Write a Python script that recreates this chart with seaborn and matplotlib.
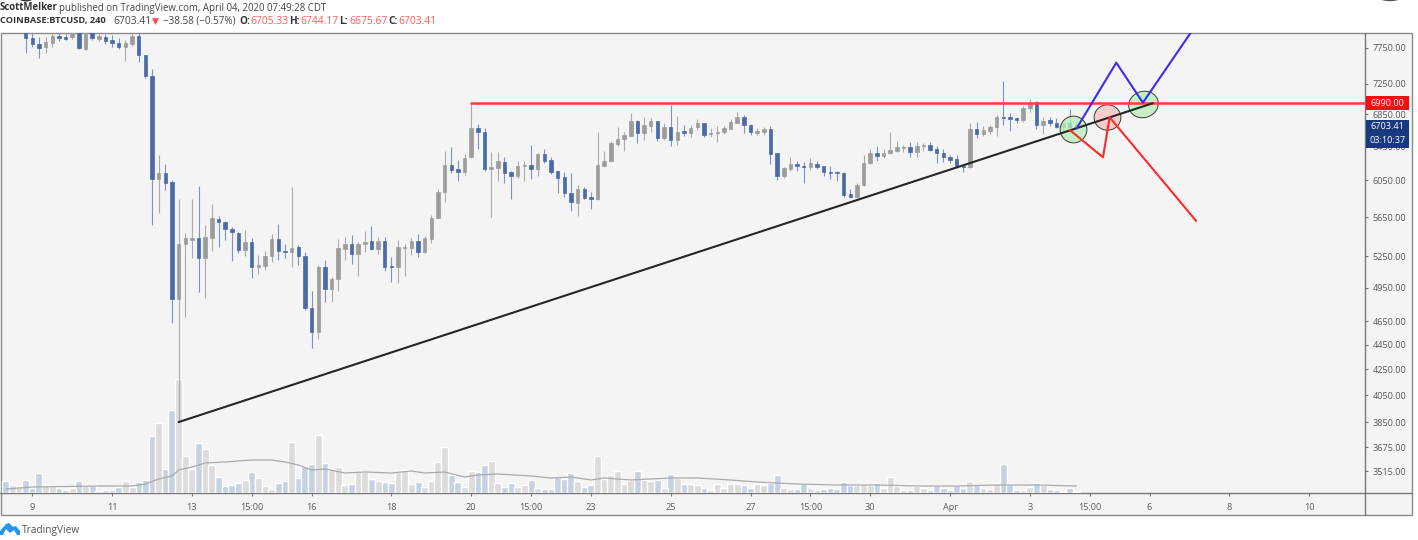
import numpy as np
import pandas as pd
import matplotlib
matplotlib.use("Agg")
import matplotlib.pyplot as plt
import seaborn as sns
from matplotlib.markers import MarkerStyle
from matplotlib.patches import Rectangle, Polygon, Ellipse
from matplotlib.transforms import Affine2D, IdentityTransform
from matplotlib.colors import to_rgba

# ====================================
# DATA (4h candles)
# ====================================
opens = [8120, 8060, 8090, 8000, 7897, 7808, 7764, 7829, 7925, 7910,
         7910, 8000, 7735, 7985, 7880, 7918, 7865, 7822, 7764, 7808,
         7925, 7649, 7360, 6067, 6135, 6033, 4848, 5373, 5418, 5436,
         5230, 5436, 5630, 5601, 5525, 5487, 5313, 5393, 5150, 5156,
         5254, 5423, 5303, 5290, 5343, 5254, 4767, 4560, 5150, 4940,
         5032, 5323, 5373, 5273, 5373, 5400, 5323, 5406, 5160, 5150,
         5336, 5336, 5406, 5290, 5426, 5643, 5921, 6227, 6177, 6143,
         6318, 6678, 6628, 6181, 6192, 6259, 6146, 6100, 6216, 6224,
         6184, 6353, 6282, 6158, 6085, 5913, 5804, 5951, 5862, 5847,
         6220, 6271, 6476, 6534, 6578, 6757, 6608, 6702, 6757, 6550,
         6683, 6525, 6633, 6616, 6683, 6732, 6600, 6608, 6628, 6665,
         6740, 6808, 6715, 6612, 6628, 6661, 6365, 6100, 6181, 6239,
         6220, 6204, 6239, 6212, 6146, 6143, 6131, 5895, 5869, 5995,
         6247, 6368, 6337, 6365, 6388, 6432, 6437, 6384, 6452, 6465,
         6416, 6365, 6325, 6294, 6220, 6208, 6658, 6604, 6637, 6683,
         6812, 6808, 6795, 6774, 6925, 7000, 6715, 6774, 6740, 6690,
         6740, 6705.33]
closes = [8060, 8090, 8110, 7897, 7808, 7750, 7836, 7925, 7895, 7880,
          7985, 7750, 8000, 7895, 7925, 7851, 7822, 7771, 7822, 7925,
          7649, 7360, 6067, 6135, 6022, 4848, 5373, 5433, 5433, 5237,
          5446, 5640, 5598, 5522, 5491, 5313, 5393, 5150, 5166, 5254,
          5423, 5303, 5293, 5333, 5254, 4767, 4560, 5150, 4940, 5032,
          5333, 5373, 5273, 5373, 5390, 5320, 5406, 5150, 5150, 5340,
          5346, 5406, 5290, 5430, 5643, 5924, 6227, 6169, 6150, 6313,
          6678, 6628, 6177, 6204, 6271, 6138, 6104, 6216, 6227, 6184,
          6353, 6278, 6146, 6078, 5913, 5808, 5951, 5858, 5847, 6231,
          6274, 6485, 6541, 6583, 6757, 6608, 6707, 6757, 6546, 6683,
          6525, 6628, 6616, 6678, 6740, 6591, 6616, 6628, 6674, 6752,
          6808, 6715, 6625, 6633, 6661, 6357, 6104, 6192, 6239, 6220,
          6208, 6247, 6208, 6143, 6135, 6135, 5890, 5869, 6002, 6247,
          6372, 6337, 6368, 6404, 6437, 6440, 6384, 6452, 6465, 6404,
          6365, 6325, 6286, 6216, 6208, 6658, 6604, 6649, 6683, 6808,
          6800, 6790, 6774, 6925, 6993, 6715, 6765, 6732, 6690, 6740,
          6690, 6703.41]
highs = [8150, 8130, 8160, 8050, 7970, 7910, 7910, 7970, 7970, 7955,
         8014, 8040, 8040, 8030, 7970, 7955, 7940, 7895, 7865, 7970,
         7970, 7649, 7453, 6345, 6240, 6055, 5844, 5488, 5844, 5988,
         5567, 5790, 5662, 5608, 5546, 5494, 5515, 5433, 5263, 5303,
         5473, 5577, 5373, 5976, 5363, 5293, 4924, 5166, 5214, 5055,
         5423, 5443, 5463, 5396, 5505, 5560, 5443, 5446, 5247, 5413,
         5373, 5430, 5470, 5453, 5672, 5951, 6392, 6437, 6286, 6357,
         6980, 6725, 6678, 6384, 6384, 6318, 6161, 6274, 6274, 6465,
         6368, 6412, 6318, 6158, 6150, 6138, 5999, 5980, 5924, 6628,
         6396, 6517, 6690, 6628, 6860, 6774, 6808, 6795, 6765, 6732,
         6967, 6825, 6712, 6712, 6783, 6740, 6678, 6699, 6699, 6783,
         6872, 6838, 6725, 6670, 6690, 6699, 6368, 6208, 6325, 6274,
         6266, 6306, 6274, 6216, 6216, 6154, 6146, 5951, 6018, 6345,
         6412, 6452, 6412, 6620, 6513, 6465, 6505, 6505, 6493, 6505,
         6452, 6412, 6345, 6345, 6227, 6740, 6752, 6699, 6712, 6838,
         7286, 6868, 6816, 6954, 7040, 7020, 6812, 6816, 6800, 6752,
         6910, 6744.17]
lows = [8030, 8030, 8040, 7679, 7764, 7607, 7679, 7764, 7851, 7865,
        7880, 7735, 7721, 7865, 7851, 7808, 7764, 7735, 7564, 7778,
        7550, 7330, 5567, 5697, 5943, 4635, 3852, 4690, 5234, 4914,
        4857, 5303, 5346, 5413, 5207, 5283, 5254, 5042, 5080, 5118,
        5198, 5214, 5234, 5150, 5166, 4749, 4424, 4498, 4824, 4824,
        4924, 5214, 5176, 5061, 5296, 5313, 5273, 5111, 5007, 4992,
        5061, 5263, 5247, 5283, 5386, 5637, 5808, 6138, 6044, 6112,
        6309, 6416, 6161, 5647, 6044, 6025, 5841, 6081, 6044, 6066,
        6100, 6254, 6123, 5907, 5862, 5718, 5661, 5841, 5736, 5833,
        6216, 6263, 6452, 6396, 6574, 6485, 6525, 6620, 6517, 6525,
        6452, 6464, 6578, 6558, 6649, 6566, 6566, 6505, 6596, 6661,
        6736, 6616, 6587, 6583, 6583, 6240, 6055, 6081, 6158, 6158,
        6018, 6169, 6177, 6104, 6070, 6044, 5862, 5855, 5851, 5987,
        6239, 6274, 6306, 6362, 6380, 6376, 6325, 6318, 6396, 6396,
        6247, 6266, 6254, 6189, 6150, 6189, 6554, 6574, 6600, 6578,
        6712, 6637, 6732, 6752, 6872, 6658, 6596, 6699, 6674, 6649,
        6612, 6675.67]
volumes = [1200, 800, 700, 1300, 500, 2000, 800, 700, 500, 300,
           500, 1200, 800, 800, 250, 300, 300, 600, 1200, 600,
           1100, 1300, 5700, 7000, 2400, 8300, 11400, 3700, 2400, 5000,
           4400, 2800, 1600, 700, 800, 1000, 1300, 2100, 1500, 700,
           400, 1000, 1200, 5100, 1500, 2700, 2900, 5800, 3000, 2300,
           2600, 800, 900, 2100, 2100, 1400, 1200, 1100, 1000, 2100,
           2300, 900, 1100, 600, 1200, 3100, 4600, 1800, 1100, 600,
           2200, 2100, 2800, 3200, 1000, 600, 1000, 600, 800, 1300,
           500, 400, 400, 1600, 1400, 2000, 1200, 600, 800, 3700,
           1400, 1800, 2200, 900, 1300, 2200, 1300, 1200, 1300, 500,
           1900, 1500, 900, 900, 800, 500, 300, 900, 500, 900,
           900, 800, 500, 900, 800, 1000, 1800, 500, 400, 400,
           1000, 500, 300, 400, 500, 400, 1100, 800, 800, 900,
           800, 1000, 500, 1600, 700, 300, 300, 700, 500, 300,
           800, 500, 300, 800, 500, 1200, 800, 500, 400, 1000,
           2900, 900, 300, 300, 600, 1000, 800, 400, 300, 100,
           500, 100]

# volume moving average, read at a handful of candles
ma_idx = [0, 4, 9, 14, 19, 21, 23, 25, 26, 28, 30, 33, 37, 40, 42, 44, 46, 48, 51, 54,
          58, 61, 63, 66, 69, 71, 74, 79, 82, 85, 88, 90, 94, 97, 100, 104, 109, 113,
          119, 125, 131, 137, 143, 149, 155, 161]
ma_values = [400, 600, 650, 700, 700, 900, 1400, 1700, 2300, 2600, 3000, 3100, 3300, 3300, 3100,
             2800, 2300, 2400, 2000, 2100, 2000, 2200, 2000, 2100, 1600, 1800, 1900, 1700, 1500,
             1600, 1300, 1500, 1300, 1400, 1500, 1500, 1300, 1100, 900, 800, 800, 700, 700,
             800, 800, 700]

# drawn trend lines and scenario paths
level_price = 6990
level_idx = [70, 204.4]
trend_idx = [26, 172.5]
trend_price = [3852, 6990]
up_idx = [161, 167, 171, 178.2]
up_price = [6665, 7540, 6997, 7975]
down_idx = [160, 165, 166, 179]
down_price = [6649, 6318, 6808, 5610]

# axes labels
price_ticks = [7750, 7250, 6850, 6450, 6050, 5650, 5250, 4950, 4650, 4450, 4250, 4050, 3850, 3675, 3515]
time_ticks = [4, 16, 28, 37, 46, 58, 70, 79, 88, 100, 112, 121, 130, 142, 154, 163, 172, 184, 196]
time_labels = ["9", "11", "13", "15:00", "16", "18", "20", "15:00", "23", "25", "27", "15:00",
               "30", "Apr", "3", "15:00", "6", "8", "10"]

# ====================================
# STYLE
# ====================================
sns.set_theme(style="white")
plt.rcParams["font.family"] = ["Open Sans", "DejaVu Sans"]

GREY = "#9c9c9c"
BLUE = "#4a6aa8"
PANEL = "#f4f4f4"
LINE = "#8a8a8a"
TEXT = "#5a5a5a"

candles = pd.DataFrame({"open": opens, "high": highs, "low": lows, "close": closes, "volume": volumes})
candles["idx"] = candles.index
candles["side"] = np.where(candles["close"] >= candles["open"], "up", "down")

fig = plt.figure(figsize=(14.18, 5.40), dpi=100, facecolor="white")

# page layer in pixel coordinates: frame, header, logo
page = fig.add_axes([0, 0, 1, 1], zorder=-1)
page.set_xlim(0, 1418)
page.set_ylim(540, 0)
page.axis("off")
page.add_patch(Rectangle((0.5, 32.5), 1411.5, 482.5, facecolor=PANEL, edgecolor=LINE, linewidth=1))
page.plot([1365, 1365], [33, 515], color="#777777", lw=1)
page.plot([0, 1412], [493, 493], color="#777777", lw=1)

# avatars cut off at the top edge
page.add_patch(Ellipse((26, -3), 16, 9, facecolor="#3a3a3a", edgecolor="none"))
page.add_patch(Ellipse((1390, -4), 24, 9, facecolor="none", edgecolor="#555555", linewidth=1))

page.text(0, 8, "ScottMelker", color="#333333", fontweight="bold", fontsize=6.9, va="center")
page.text(59, 8, "published on TradingView.com, April 04, 2020 07:49:28 CDT", color="#444444", fontsize=6.9, va="center")
page.text(0, 21, "COINBASE:BTCUSD, 240", color="#333333", fontweight="bold", fontsize=6.7, va="center")
page.text(113, 21, "6703.41", color="#444444", fontsize=7.4, va="center")
page.text(152, 21, "▼", color="#ff4a4a", fontsize=6.5, va="center")
page.text(163, 21, "−38.58 (−0.57%)", color="#444444", fontsize=7.1, va="center")
for x_label, label, x_value, value in [(239, "O:", 250, "6705.33"), (289, "H:", 300, "6744.17"),
                                       (339, "L:", 349, "6675.67"), (388, "C:", 398, "6703.41")]:
    page.text(x_label, 21, label, color="#333333", fontweight="bold", fontsize=7.2, va="center")
    page.text(x_value, 21, value, color="#ff5a5a", fontsize=7.4, va="center")

page.add_patch(Polygon([(0, 535), (0, 531), (6, 524), (9, 523), (13, 527), (16, 526), (20, 531),
                        (20, 535), (17, 535), (14, 530), (10, 533), (6, 529), (3, 535)],
                       facecolor="#2196f3", edgecolor="none"))
page.text(22, 530, "TradingView", color="#555555", fontsize=7.3, va="center")

# ====================================
# VOLUME (behind the candles)
# ====================================
left, right, top, bottom = 0 / 1418, 1365 / 1418, 1 - 33 / 540, 1 - 493 / 540
vol_ax = fig.add_axes([left, bottom, right - left, top - bottom], zorder=1)
vol_ax.patch.set_visible(False)

sns.barplot(
    data=candles,
    x="idx",
    y="volume",
    hue="side",
    palette={"up": "#dcdcdc", "down": "#c6d1e3"},
    native_scale=True,
    dodge=False,
    width=1.05,
    saturation=1,
    legend=False,
    ax=vol_ax
)
sns.lineplot(x=ma_idx, y=ma_values, color="#aaaaaa", linewidth=0.9, errorbar=None, ax=vol_ax)
vol_ax.set_ylim(0, 46000)
vol_ax.axis("off")

# ====================================
# PRICE
# ====================================
ax = fig.add_axes([left, bottom, right - left, top - bottom], zorder=2)
ax.patch.set_visible(False)
ax.set_yscale("log")

for side, body_color, wick_color in [("up", GREY, "#ababab"), ("down", BLUE, "#7d93c0")]:
    part = candles[candles["side"] == side]
    ax.vlines(part["idx"], part["low"], part["high"], colors=wick_color, linewidth=0.8, zorder=2)
    body_low = part[["open", "close"]].min(axis=1)
    body_high = part[["open", "close"]].max(axis=1)
    ax.bar(part["idx"], body_high - body_low, bottom=body_low, width=0.52, color=body_color,
           edgecolor=body_color, linewidth=0.5, zorder=3)

# scenario circles, under the drawn lines
circle_idx = [160.5, 165.6, 171]
circle_price = [6665, 6815, 6985]
circle_colors = [to_rgba("#b4efb4", 0.75), to_rgba("#fbc4c6", 0.85), to_rgba("#b4efb4", 0.75)]
circle_marks = [MarkerStyle("o"), MarkerStyle("o", transform=Affine2D().scale(1.0, 0.95)),
                MarkerStyle("o", transform=Affine2D().scale(1.12, 0.98).rotate_deg(18))]
for cx, cy, cc, cm in zip(circle_idx, circle_price, circle_colors, circle_marks):
    sns.scatterplot(x=[cx], y=[cy], s=370, marker=cm, color=[cc], edgecolor="#3a3a3a", linewidth=0.7,
                    legend=False, zorder=4, ax=ax)

sns.lineplot(x=level_idx, y=[level_price, level_price], color="#ff3b3f", linewidth=1.8, errorbar=None, zorder=5, ax=ax)
sns.lineplot(x=trend_idx, y=trend_price, color="#262626", linewidth=1.5, errorbar=None, zorder=6, ax=ax)
sns.lineplot(x=up_idx, y=up_price, color="#3d2bf0", linewidth=1.5, sort=False, errorbar=None, zorder=7, ax=ax)
sns.lineplot(x=down_idx, y=down_price, color="#ff2a2a", linewidth=1.5, sort=False, errorbar=None, zorder=7, ax=ax)

ax.set_xlim(-0.857, 204.4)
vol_ax.set_xlim(-0.857, 204.4)
ax.set_ylim(3374, 7970)
ax.set_xlabel("")
ax.set_ylabel("")
for spine in ax.spines.values():
    spine.set_visible(False)

ax.yaxis.tick_right()
ax.set_yticks(price_ticks)
ax.set_yticklabels([f"{p:.2f}" for p in price_ticks])
ax.minorticks_off()
ax.set_xticks(time_ticks)
ax.set_xticklabels(time_labels)
ax.tick_params(axis="both", which="major", labelsize=6.6, labelcolor=TEXT, color="#777777",
               length=2.5, width=0.8, pad=3, bottom=True, right=True)
ax.tick_params(axis="x", pad=4.5)

# ====================================
# PRICE TAGS (placed through the price scale)
# ====================================
fig.canvas.draw()


def price_tag(price, label, color, shift=0, height=14):
    y_px = ax.transData.transform((0, price))[1] - shift
    x_px = 1365.5
    fig.add_artist(Rectangle((x_px, y_px - height / 2), 43.5, height, facecolor=color, edgecolor="none",
                             transform=IdentityTransform(), zorder=5))
    fig.text(x_px + 21.7, y_px, label, color="white", fontsize=6.6, ha="center", va="center",
             transform=IdentityTransform(), zorder=6)


price_tag(level_price, f"{level_price:.2f}", "#f50d12")
price_tag(closes[-1], f"{closes[-1]:.2f}", "#17397f", shift=1)
price_tag(closes[-1], "03:10:37", "#17397f", shift=15)

plt.savefig("out.png", dpi=100, facecolor="white")
